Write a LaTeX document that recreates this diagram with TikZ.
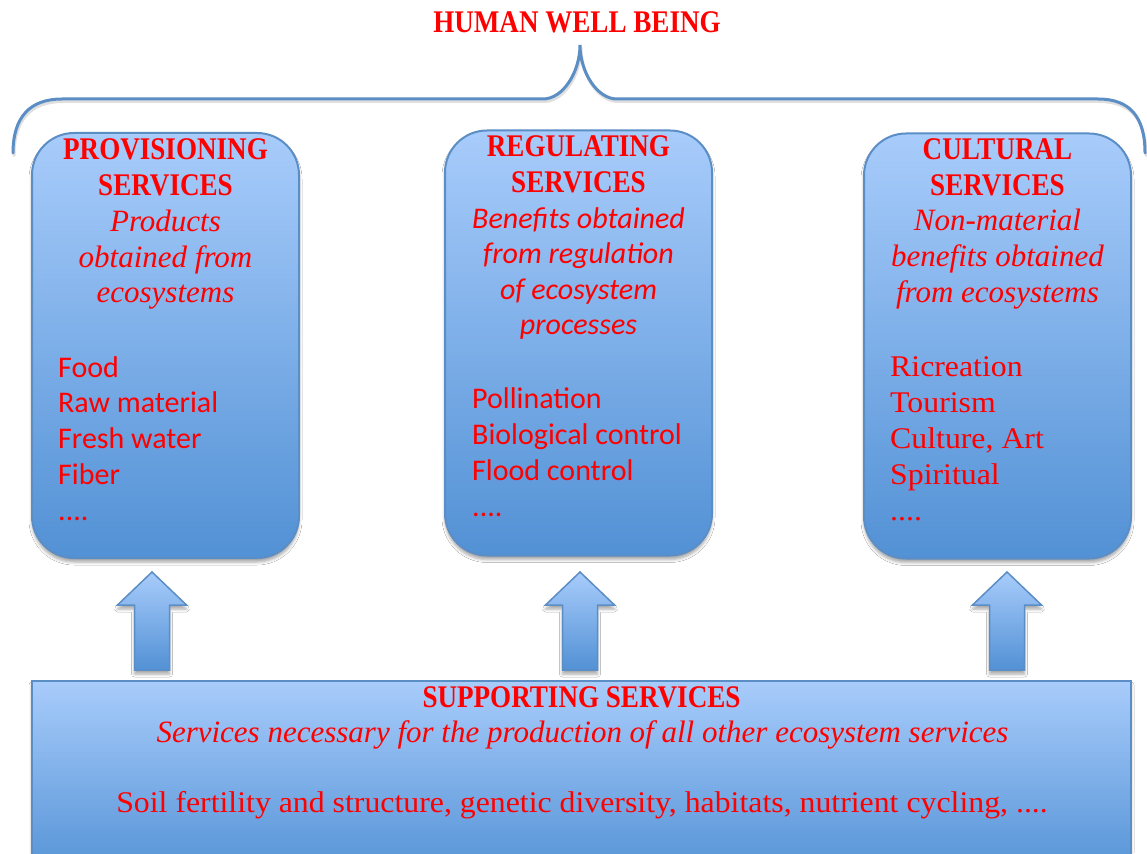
\documentclass[tikz,border=0pt]{standalone}
\usepackage{fontspec}
\usetikzlibrary{shadows.blur}
\setmainfont{Carlito}
\newfontfamily\headfont[FakeStretch=0.86]{Liberation Serif}
\newfontfamily\itfont[FakeStretch=1.0]{Liberation Serif}
\newfontfamily\romfont[FakeStretch=1.06]{Liberation Serif}
\definecolor{ink}{RGB}{255,0,0}
\definecolor{fillTop}{RGB}{168,204,251}
\definecolor{fillBot}{RGB}{82,145,213}
\definecolor{edge}{RGB}{92,142,198}

\tikzset{
  softshadow/.style={blur shadow={shadow xshift=0pt, shadow yshift=-4pt,
      shadow blur radius=3pt, shadow opacity=35}},
  svcbox/.style={draw=edge, line width=2pt, rounded corners=42pt,
      top color=fillTop, bottom color=fillBot,
      minimum width=267pt, minimum height=425pt, inner sep=0pt, softshadow},
  basebox/.style={draw=edge, line width=2pt, top color=fillTop, bottom color=fillBot,
      softshadow},
  blockarrow/.style={draw=edge, line width=1.5pt, line join=miter,
      top color=fillTop, bottom color=fillBot, softshadow},
  bracket/.style={draw=edge, line width=3pt, line cap=round},
  heading/.style={anchor=base, inner sep=0pt, text=ink,
      font=\headfont\bfseries\fontsize{31.5}{36}\selectfont},
  serifnote/.style={anchor=base, inner sep=0pt, text=ink,
      font=\itfont\itshape\fontsize{31}{36}\selectfont},
  sansnote/.style={anchor=base, inner sep=0pt, text=ink,
      font=\itshape\fontsize{30}{36}\selectfont},
  sansitem/.style={anchor=base west, inner sep=0pt, text=ink,
      font=\fontsize{30}{36}\selectfont},
  serifitem/.style={anchor=base west, inner sep=0pt, text=ink,
      font=\romfont\fontsize{30}{36}\selectfont},
  serifline/.style={anchor=base, inner sep=0pt, text=ink,
      font=\romfont\fontsize{30}{36}\selectfont},
}

\begin{document}
\begin{tikzpicture}[x=1pt, y=-1pt]
\useasboundingbox (0,0) rectangle (1147,853);
\clip (0,0) rectangle (1147,853);
\fill[white] (0,0) rectangle (1147,853);

% top label and the brace gathering the three service groups
\node[heading] (hwb) at (577,33) {HUMAN WELL BEING};
\draw[black!35, opacity=0.35, line width=3pt, line cap=round, xshift=1pt, yshift=-2.5pt]
  (13,153) .. controls (13,117) and (30,99) .. (62,99) -- (543,99)
  .. controls (563,99) and (580,72) .. (580,45)
  .. controls (580,72) and (597,99) .. (617,99) -- (1098,99)
  .. controls (1130,99) and (1145,117) .. (1145,153);
\draw[bracket]
  (13,153) .. controls (13,117) and (30,99) .. (62,99) -- (543,99)
  .. controls (563,99) and (580,72) .. (580,45)
  .. controls (580,72) and (597,99) .. (617,99) -- (1098,99)
  .. controls (1130,99) and (1145,117) .. (1145,153);

% the three service boxes
\node[svcbox] (prov) at (165.5,345.5) {};
\node[svcbox] (regu) at (578.5,343) {};
\node[svcbox] (cult) at (997.5,346) {};

% supporting services base
\path[basebox] (32,681) rectangle (1131,880);
\coordinate (supp) at (581.5,681);

% block arrows from the base up to each box
\foreach \cx [count=\i] in {152,580,1007}{
  \coordinate (arrowtip\i) at (\cx,572);
  \path[blockarrow] (arrowtip\i) -- (\cx+34.5,605) -- (\cx+17.5,605) -- (\cx+17.5,670)
    -- (\cx-17.5,670) -- (\cx-17.5,605) -- (\cx-34.5,605) -- cycle;
}

% provisioning services
\node[heading] (provh1) at (165.5,160) {PROVISIONING};
\node[heading] (provh2) at (165.5,195) {SERVICES};
\node[serifnote] (provn1) at (165.5,231.5) {Products};
\node[serifnote] (provn2) at (165.5,267) {obtained from};
\node[serifnote] (provn3) at (165.5,302.5) {ecosystems};
\foreach \txt [count=\i] in {Food,Raw material,Fresh water,Fiber}
  \node[sansitem] (provi\i) at (58,341.2+35.8*\i) {\txt};
\node[sansitem] (provdots) at (58,520) {....};

% regulating services
\node[heading] (reguh1) at (578.5,157) {REGULATING};
\node[heading] (reguh2) at (578.5,192) {SERVICES};
\node[sansnote] (regun1) at (578.5,228) {Benefits obtained};
\node[sansnote] (regun2) at (578.5,263.5) {from regulation};
\node[sansnote] (regun3) at (578.5,299) {of ecosystem};
\node[sansnote] (regun4) at (578.5,334.5) {processes};
\foreach \txt [count=\i] in {Pollination,Biological control,Flood control}
  \node[sansitem] (regui\i) at (472,372+36*\i) {\txt};
\node[sansitem] (regudots) at (472,516) {....};

% cultural services
\node[heading] (culth1) at (997.5,159.5) {CULTURAL};
\node[heading] (culth2) at (997.5,195) {SERVICES};
\node[serifnote] (cultn1) at (997.5,230.5) {Non-material};
\node[serifnote] (cultn2) at (997.5,266) {benefits obtained};
\node[serifnote] (cultn3) at (997.5,302) {from ecosystems};
\foreach \txt [count=\i] in {Ricreation,Tourism,{Culture, Art},Spiritual}
  \node[serifitem] (culti\i) at (890,341+35.8*\i) {\txt};
\node[serifitem] (cultdots) at (890,520) {....};

% supporting services text
\node[heading] (supph) at (581.5,707) {SUPPORTING SERVICES};
\node[serifnote] (suppn) at (582.5,742) {Services necessary for the production of all other ecosystem services};
\node[serifline] (suppl) at (582,812) {Soil fertility and structure, genetic diversity, habitats, nutrient cycling, ....};
\end{tikzpicture}
\end{document}
